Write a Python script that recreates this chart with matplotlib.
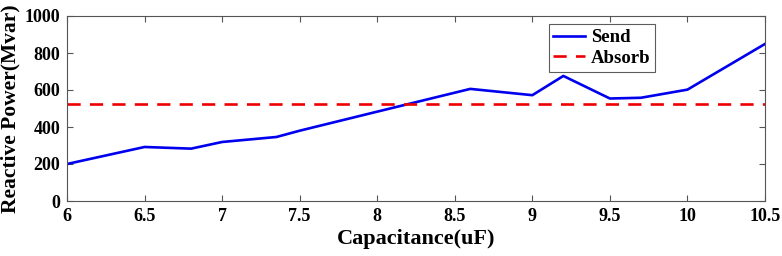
import matplotlib.pyplot as plt

cap = [6, 6.5, 6.8, 7, 7.35, 7.5, 8, 8.6, 9, 9.2, 9.5, 9.7, 10, 10.5]
send = [200, 292, 283, 319, 346, 380, 483, 606, 572, 676, 554, 558, 602, 849]
absorb = 523

plt.rcParams['font.family'] = ['Liberation Serif', 'DejaVu Serif']
plt.rcParams['font.weight'] = 'bold'

fig = plt.figure(figsize=(7.82, 2.56), dpi=100)
ax = fig.add_axes([67 / 782, 1 - 201 / 256, 698 / 782, 185 / 256])

ax.plot(cap, send, color='#0000ee', lw=1.9, label='Send')
ax.axhline(absorb, color='#ee0000', lw=1.9, ls=(0, (5, 3.5)), label='Absorb')

ax.set_xlim(6, 10.5)
ax.set_ylim(0, 1000)
ax.set_xticks([6, 6.5, 7, 7.5, 8, 8.5, 9, 9.5, 10, 10.5])
ax.set_xticklabels(['6', '6.5', '7', '7.5', '8', '8.5', '9', '9.5', '10', '10.5'])
ax.set_yticks(range(0, 1001, 200))
ax.tick_params(direction='in', top=True, right=True, labelsize=13, length=4, color='#555555', pad=5)
for s in ax.spines.values():
    s.set_color('#555555')
    s.set_linewidth(0.8)

ax.set_xlabel('Capacitance(uF)', fontsize=16, fontweight='bold', labelpad=3)
ax.set_ylabel('Reactive Power(Mvar)', fontsize=15.5, fontweight='bold', labelpad=3)

leg = ax.legend(loc='upper left', bbox_to_anchor=(0.69, 0.955), fontsize=13.5, frameon=True,
                fancybox=False, edgecolor='#333333', handlelength=1.7, borderpad=0.25,
                labelspacing=0.2, handletextpad=0.3, borderaxespad=0)
leg.get_frame().set_linewidth(0.8)

fig.savefig('out.png', dpi=100)
